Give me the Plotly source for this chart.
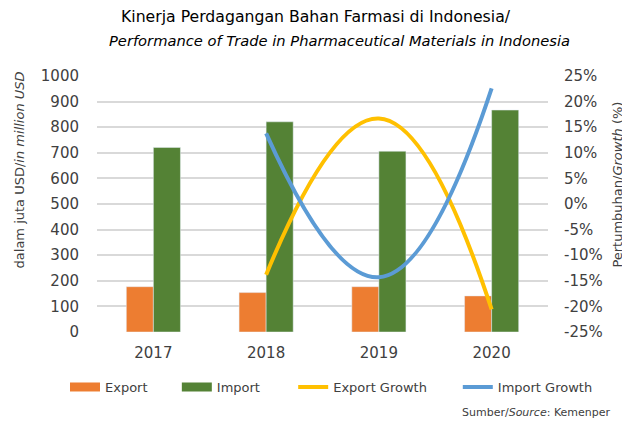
import plotly.graph_objects as go

years = ["2017", "2018", "2019", "2020"]
export_vals = [177, 154, 177, 141]
import_vals = [721, 821, 706, 867]
growth_years = ["2018", "2019", "2020"]
export_growth = [-13.8, 16.7, -20.6]
import_growth = [13.8, -14.3, 22.6]
growth_ticks = [-25, -20, -15, -10, -5, 0, 5, 10, 15, 20, 25]
growth_tick_labels = ["-25%", "-20%", "-15%", "-10%", "-5%", "0%", "5%", "10%", "15%", "20%", "25%"]

FONT = "DejaVu Sans"
TXT = "#404040"
C_EXP, C_IMP, C_EG, C_IG = "#ED7D31", "#548235", "#FFC000", "#5B9BD5"

fig = go.Figure()
fig.add_trace(go.Bar(x=years, y=export_vals, name="Export", marker_color=C_EXP, showlegend=False))
fig.add_trace(go.Bar(x=years, y=import_vals, name="Import", marker_color=C_IMP, showlegend=False))
fig.add_trace(go.Scatter(x=growth_years, y=export_growth, name="Export Growth", yaxis="y2",
                         mode="lines", line=dict(color=C_EG, width=4, shape="spline", smoothing=1.3),
                         showlegend=False))
fig.add_trace(go.Scatter(x=growth_years, y=import_growth, name="Import Growth", yaxis="y2",
                         mode="lines", line=dict(color=C_IG, width=4, shape="spline", smoothing=1.3),
                         showlegend=False))

# legend entries, each in its own legend box
legend_items = [("Export", C_EXP, 9, "legend", -0.071),
                ("Import", C_IMP, 9, "legend2", 0.177),
                ("Export Growth", C_EG, 4, "legend3", 0.435),
                ("Import Growth", C_IG, 4, "legend4", 0.800)]
legend_layout = {}
for name, col, w, lg, lx in legend_items:
    fig.add_trace(go.Scatter(x=[None], y=[None], mode="lines", name=name, legend=lg,
                             line=dict(color=col, width=w), showlegend=True))
    legend_layout[lg] = dict(orientation="h", x=lx, xanchor="left", y=-0.215, yanchor="middle",
                             font=dict(size=13, color=TXT), bgcolor="rgba(0,0,0,0)")

fig.update_layout(
    width=622, height=418,
    margin=dict(l=89, r=82, t=68, b=94, autoexpand=False),
    paper_bgcolor="white", plot_bgcolor="white",
    font=dict(family=FONT, color=TXT, size=14),
    barmode="group", bargap=0.52, bargroupgap=0,
    showlegend=True,
    xaxis=dict(showgrid=False, showline=False, ticks="", automargin=False, ticklabelstandoff=10,
               tickfont=dict(size=15, color=TXT)),
    yaxis=dict(range=[0, 1000], dtick=100, showgrid=True, gridcolor="#D9D9D9", gridwidth=1.5,
               zeroline=False, ticks="", automargin=False, ticklabelstandoff=17,
               tickfont=dict(size=15, color=TXT)),
    yaxis2=dict(range=[-25, 25], tickmode="array", tickvals=growth_ticks, ticktext=growth_tick_labels,
                overlaying="y", side="right",
                showgrid=False, zeroline=False, ticks="", automargin=False, ticklabelstandoff=15,
                tickfont=dict(size=15, color=TXT)),
    annotations=[
        dict(text="Kinerja Perdagangan Bahan Farmasi di Indonesia/", xref="paper", yref="paper",
             x=0.486, y=1.232, xanchor="center", yanchor="middle", showarrow=False,
             font=dict(size=15.7, color="#000000")),
        dict(text="<i>Performance of Trade in Pharmaceutical Materials in Indonesia</i>", xref="paper", yref="paper",
             x=0.537, y=1.14, xanchor="center", yanchor="middle", showarrow=False,
             font=dict(size=14.7, color="#000000")),
        dict(text="dalam juta USD/<i>in million USD</i>", xref="paper", yref="paper",
             x=-0.171, y=0.242, xanchor="center", yanchor="bottom", textangle=-90, showarrow=False,
             font=dict(size=13, color=TXT)),
        dict(text="Pertumbuhan/<i>Growth</i> (%)", xref="paper", yref="paper",
             x=1.152, y=0.242, xanchor="center", yanchor="bottom", textangle=-90, showarrow=False,
             font=dict(size=13, color=TXT)),
        dict(text="Sumber/<i>Source</i>: Kemenper", xref="paper", yref="paper",
             x=1.144, y=-0.316, xanchor="right", yanchor="middle", showarrow=False,
             font=dict(size=11, color=TXT)),
    ],
    **legend_layout,
)

fig.write_html("out.html")
